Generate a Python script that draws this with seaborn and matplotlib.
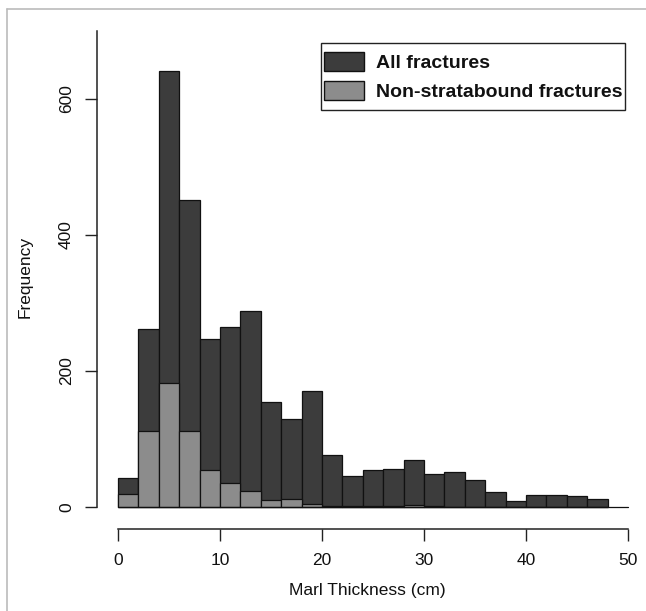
import numpy as np
import pandas as pd
import matplotlib
matplotlib.use("Agg")
import matplotlib.pyplot as plt
from matplotlib.patches import Patch, Rectangle
from matplotlib.lines import Line2D
import seaborn as sns

# Data (bins of 2 cm, 0..48)
bin_starts = list(range(0, 48, 2))
all_counts = [43, 262, 641, 452, 247, 264, 288, 154, 129, 171, 77, 46, 54, 56, 69, 49, 52, 40, 22, 9, 17, 17, 16, 12]
nonstrat_counts = [19, 112, 182, 112, 55, 36, 23, 10, 12, 5, 1, 2, 1, 1, 3, 2, 0, 0, 0, 0, 0, 0, 0, 0]
x_ticks = [0, 10, 20, 30, 40, 50]
y_ticks = [0, 200, 400, 600]

df = pd.DataFrame({"center": [b + 1 for b in bin_starts], "all": all_counts, "non": nonstrat_counts})
edges = [float(b) for b in bin_starts] + [48.0]

sns.set_style("white")
plt.rcParams["font.family"] = ["Liberation Sans", "DejaVu Sans"]
plt.rcParams["text.color"] = "#111111"
plt.rcParams["axes.labelcolor"] = "#111111"
plt.rcParams["xtick.color"] = "#111111"
plt.rcParams["ytick.color"] = "#111111"

W, H = 646, 611
fig = plt.figure(figsize=(W / 100, H / 100), dpi=100)

px_per_x = 10.2
x0_px = 118
left_px = 97
xmin = (left_px - x0_px) / px_per_x
xmax = 51.0
right_px = x0_px + xmax * px_per_x
px_per_y = 0.68
y0_px = 507
ymin, ymax = -32, 710
bottom_px = y0_px - ymin * px_per_y
top_px = y0_px - ymax * px_per_y
ax = fig.add_axes([left_px / W, 1 - bottom_px / H, (right_px - left_px) / W, (bottom_px - top_px) / H])

dark = "#3c3c3c"
light = "#8c8c8c"
sns.histplot(data=df, x="center", weights="all", bins=edges, ax=ax,
             color=dark, edgecolor="#111111", linewidth=0.9, alpha=1)
sns.histplot(data=df, x="center", weights="non", bins=edges, ax=ax,
             color=light, edgecolor="#111111", linewidth=0.9, alpha=1)

ax.set_xlim(xmin, xmax)
ax.set_ylim(ymin, ymax)
ax.axhline(0, xmin=(0 - xmin) / (xmax - xmin), xmax=(50 - xmin) / (xmax - xmin), color="#111111", lw=0.9)

for s in ["top", "right"]:
    ax.spines[s].set_visible(False)
ax.spines["left"].set_bounds(0, 700)
ax.spines["bottom"].set_bounds(0, 50)
for s in ["left", "bottom"]:
    ax.spines[s].set_color("#222222")
    ax.spines[s].set_linewidth(1.1)

ax.set_xticks(x_ticks)
ax.set_yticks(y_ticks)
ax.set_yticklabels([str(v) for v in y_ticks], rotation=90, va="center")
ax.tick_params(axis="both", direction="out", length=8.5, width=1.0, color="#222222",
               labelsize=12.5, pad=8, left=True, bottom=True)
ax.tick_params(axis="x", pad=9)
ax.set_xlabel("Marl Thickness (cm)", fontsize=12.5, labelpad=11)
ax.set_ylabel("Frequency", fontsize=12.5, labelpad=19)

handles = [Patch(facecolor=dark, edgecolor="#111111", label="All fractures"),
           Patch(facecolor=light, edgecolor="#111111", label="Non-stratabound fractures")]
leg = fig.legend(handles=handles, loc="upper right",
                 bbox_to_anchor=(622 / W, 1 - 52 / H),
                 frameon=False, prop={"weight": "bold", "size": 14},
                 handlelength=2.06, handleheight=1.12, borderpad=0.0, labelspacing=0.45,
                 handletextpad=0.57, borderaxespad=0)

fig.canvas.draw()
bb = leg.get_window_extent()
box = Rectangle((bb.x0 - 3, bb.y0 - 9.5), bb.width + 6, bb.height + 19, transform=None,
                facecolor="none", edgecolor="#222222", linewidth=1.0, zorder=5)
fig.add_artist(box)

fig.add_artist(Line2D([6.5 / W, 6.5 / W], [0, 1 - 9 / H], color="#bbbbbb", lw=1.2, transform=fig.transFigure))
fig.add_artist(Line2D([6.5 / W, 1], [1 - 9 / H, 1 - 9 / H], color="#bbbbbb", lw=1.2, transform=fig.transFigure))

fig.savefig("out.png", dpi=100)
